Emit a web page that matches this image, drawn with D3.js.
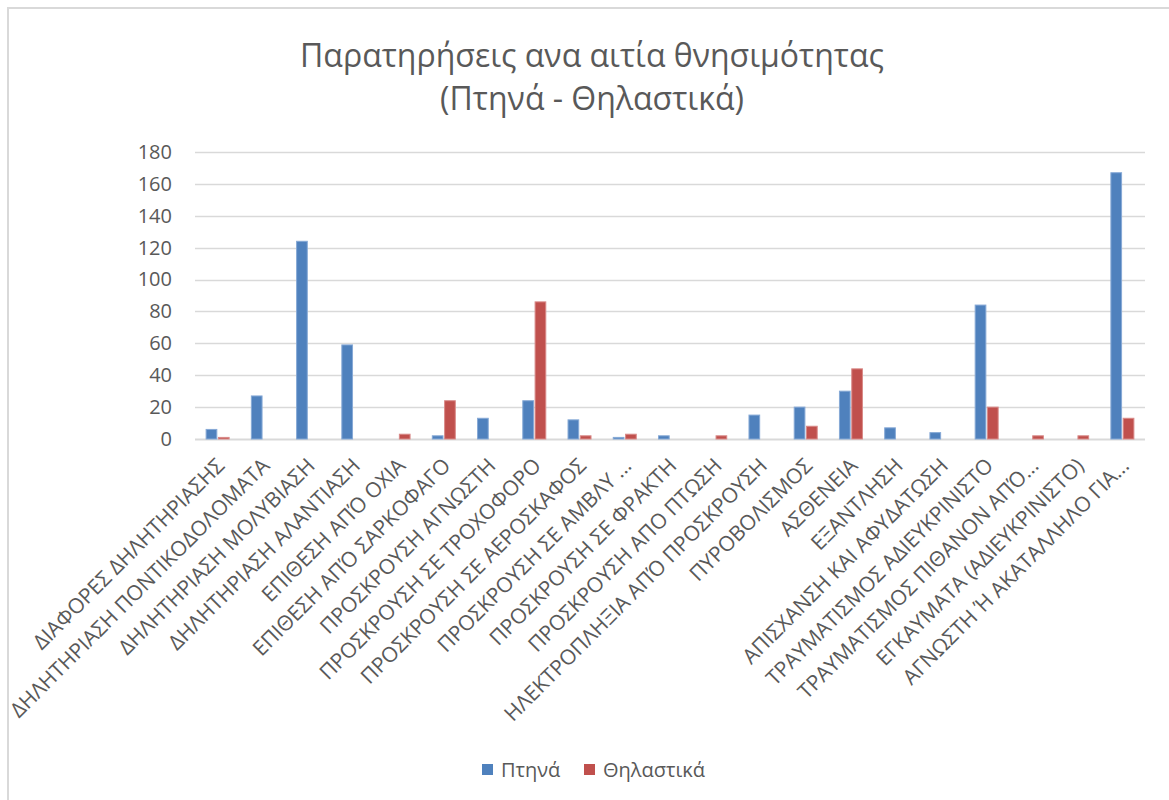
<!DOCTYPE html>
<html>
<head>
<meta charset="utf-8">
<script src="https://cdn.jsdelivr.net/npm/d3@7"></script>
<style>
  html, body { margin: 0; padding: 0; background: #fff; }
  svg { display: block; font-family: "Open Sans", "Noto Sans", sans-serif; }
</style>
</head>
<body>
<svg id="chart" width="1169" height="800"></svg>
<script>
// Causes of death
const categories = [
  "ΔΙΑΦΟΡΕΣ ΔΗΛΗΤΗΡΙΑΣΗΣ",
  "ΔΗΛΗΤΗΡΙΑΣΗ ΠΟΝΤΙΚΟΔΟΛΟΜΑΤΑ",
  "ΔΗΛΗΤΗΡΙΑΣΗ ΜΟΛΥΒΙΑΣΗ",
  "ΔΗΛΗΤΗΡΙΑΣΗ ΑΛΑΝΤΙΑΣΗ",
  "ΕΠΙΘΕΣΗ ΑΠΌ ΟΧΙΑ",
  "ΕΠΙΘΕΣΗ ΑΠΌ ΣΑΡΚΟΦΑΓΟ",
  "ΠΡΟΣΚΡΟΥΣΗ ΑΓΝΩΣΤΗ",
  "ΠΡΟΣΚΡΟΥΣΗ ΣΕ ΤΡΟΧΟΦΟΡΟ",
  "ΠΡΟΣΚΡΟΥΣΗ ΣΕ ΑΕΡΟΣΚΑΦΟΣ",
  "ΠΡΟΣΚΡΟΥΣΗ ΣΕ ΑΜΒΛΥ ...",
  "ΠΡΟΣΚΡΟΥΣΗ ΣΕ ΦΡΑΚΤΗ",
  "ΠΡΟΣΚΡΟΥΣΗ ΑΠΟ ΠΤΩΣΗ",
  "ΗΛΕΚΤΡΟΠΛΗΞΙΑ ΑΠΌ ΠΡΟΣΚΡΟΥΣΗ",
  "ΠΥΡΟΒΟΛΙΣΜΟΣ",
  "ΑΣΘΕΝΕΙΑ",
  "ΕΞΑΝΤΛΗΣΗ",
  "ΑΠΙΣΧΑΝΣΗ ΚΑΙ ΑΦΥΔΑΤΩΣΗ",
  "ΤΡΑΥΜΑΤΙΣΜΟΣ ΑΔΙΕΥΚΡΙΝΙΣΤΟ",
  "ΤΡΑΥΜΑΤΙΣΜΟΣ ΠΙΘΑΝΟΝ ΑΠΌ...",
  "ΕΓΚΑΥΜΑΤΑ (ΑΔΙΕΥΚΡΙΝΙΣΤΟ)",
  "ΑΓΝΩΣΤΗ Ή ΑΚΑΤΑΛΛΗΛΟ ΓΙΑ..."
];

const seriesNames = ["Πτηνά", "Θηλαστικά"];
const birds   = [6, 27, 124, 59, 0, 2, 13, 24, 12, 1, 2, 0, 15, 20, 30, 7, 4, 84, 0, 0, 167];
const mammals = [1, 0, 0, 0, 3, 24, 0, 86, 2, 3, 0, 2, 0, 8, 44, 0, 0, 20, 2, 2, 13];
const yTicks  = [0, 20, 40, 60, 80, 100, 120, 140, 160, 180];

const titleLines = ["Παρατηρήσεις ανα αιτία θνησιμότητας", "(Πτηνά - Θηλαστικά)"];

const colors = ["#4F81BD", "#C0504D"];
const strokes = ["#86a9d6", "#d98a88"];
const textColor = "#595959";

const svg = d3.select("#chart");

// outer chart frame
svg.append("rect")
  .attr("x", 8).attr("y", 8)
  .attr("width", 1300).attr("height", 900)
  .attr("fill", "#fff")
  .attr("stroke", "#d9d9d9").attr("stroke-width", 2);

const plot = { left: 195, right: 1145, top: 152, bottom: 439 };

const x0 = d3.scaleBand()
  .domain(categories)
  .range([plot.left, plot.right])
  .paddingInner(0).paddingOuter(0);

const barW = 10, barGap = 3;
const x1 = d3.scaleBand()
  .domain(seriesNames)
  .range([-(barW + barGap / 2), barW + barGap / 2])
  .paddingInner(barGap / (2 * barW + barGap));

const y = d3.scaleLinear().domain([0, 180]).range([plot.bottom, plot.top]);

// gridlines
svg.append("g").selectAll("line")
  .data(yTicks)
  .join("line")
  .attr("x1", plot.left).attr("x2", plot.right)
  .attr("y1", d => Math.round(y(d)) + 0.5)
  .attr("y2", d => Math.round(y(d)) + 0.5)
  .attr("stroke", "#d9d9d9")
  .attr("stroke-width", d => d === 0 ? 2 : 1.5);

// y axis labels
const yAxis = d3.axisLeft(y).tickValues(yTicks).tickSize(0).tickPadding(0);
const yg = svg.append("g")
  .attr("transform", `translate(${172},0)`)
  .call(yAxis);
yg.select(".domain").remove();
yg.selectAll("text")
  .attr("fill", textColor)
  .style("font-size", "20px")
  .style("font-family", "'Open Sans', 'Noto Sans', sans-serif");

// bars
const rows = categories.map((c, i) => ({ cat: c, vals: [birds[i], mammals[i]] }));
const groups = svg.append("g").selectAll("g")
  .data(rows)
  .join("g")
  .attr("transform", d => `translate(${x0(d.cat) + x0.bandwidth() / 2},0)`);

groups.selectAll("rect")
  .data(d => d.vals.map((v, k) => ({ v, k })))
  .join("rect")
  .attr("x", d => x1(seriesNames[d.k]))
  .attr("width", x1.bandwidth())
  .attr("y", d => y(d.v))
  .attr("height", d => y(0) - y(d.v))
  .attr("fill", d => colors[d.k])
  .attr("stroke", d => d.v > 0 ? strokes[d.k] : "none")
  .attr("stroke-width", 1);

// x axis category labels, rotated
const xAxis = d3.axisBottom(x0).tickSize(0).tickPadding(0);
const xg = svg.append("g")
  .attr("transform", `translate(0,${plot.bottom})`)
  .call(xAxis);
xg.select(".domain").remove();
xg.selectAll(".tick text")
  .attr("fill", textColor)
  .style("font-size", "21px")
  .style("font-family", "'Open Sans', 'Noto Sans', sans-serif")
  .attr("text-anchor", "end")
  .attr("dy", null)
  .attr("y", 0)
  .attr("transform", "translate(8,28) rotate(-45)");

// title
svg.append("g").selectAll("text")
  .data(titleLines)
  .join("text")
  .attr("x", 592)
  .attr("y", (d, i) => 67 + i * 43)
  .attr("text-anchor", "middle")
  .attr("fill", textColor)
  .style("font-size", "32px")
  .text(d => d);

// legend
const legend = svg.append("g").attr("transform", "translate(482,770)");
const legX = [0, 102];
const li = legend.selectAll("g")
  .data(seriesNames)
  .join("g")
  .attr("transform", (d, i) => `translate(${legX[i]},0)`);
li.append("rect")
  .attr("x", 0).attr("y", -6)
  .attr("width", 11).attr("height", 11)
  .attr("fill", (d, i) => colors[i]);
li.append("text")
  .attr("x", 19).attr("y", 7)
  .attr("fill", textColor)
  .style("font-size", "20px")
  .text(d => d);
</script>
</body>
</html>
